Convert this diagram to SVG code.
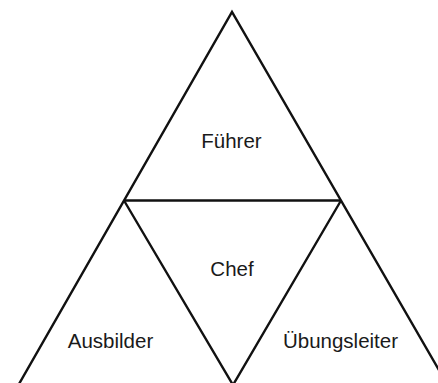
<svg xmlns="http://www.w3.org/2000/svg" width="438" height="383" viewBox="0 0 438 383">
<style>
.ln{stroke:#111;stroke-width:2.4;fill:none;stroke-linejoin:miter}
.lb{font-family:"Liberation Sans",Arial,sans-serif;font-size:20.5px;fill:#1a1a1a;text-anchor:middle}
</style>
<rect width="438" height="383" fill="#fff"/>
<g id="connectors">
<path class="ln" d="M19,384 L232,12 L447,384"/>
<path class="ln" d="M124,200.5 L341,200.5"/>
<path class="ln" d="M124,200.5 L233,385 L341,200.5"/>
</g>
<g id="fuehrer"><text class="lb" x="231.5" y="148">Führer</text></g>
<g id="chef"><text class="lb" x="232" y="275.5">Chef</text></g>
<g id="ausbilder"><text class="lb" x="110.5" y="348">Ausbilder</text></g>
<g id="uebungsleiter"><text class="lb" x="340.5" y="348">Übungsleiter</text></g>
</svg>
